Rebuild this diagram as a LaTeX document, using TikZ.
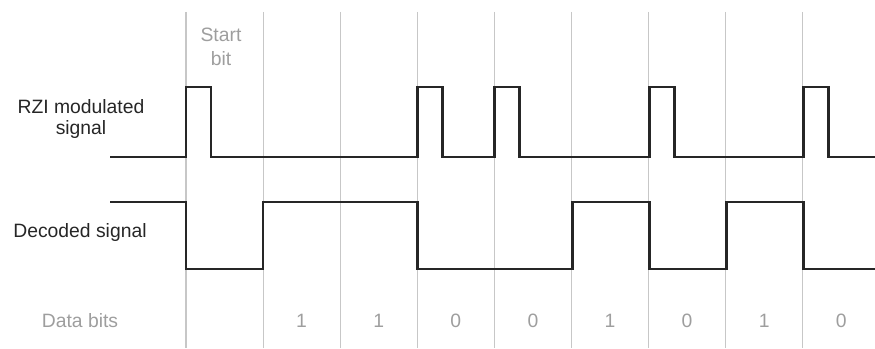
\documentclass[tikz,border=0pt]{standalone}
\usepackage{fontspec}
\setmainfont{Liberation Sans}
\usepackage{tikz}
\usetikzlibrary{calc}

\begin{document}
\begin{tikzpicture}[x=0.02cm, y=-0.02cm,
    signal/.style={line width=1.7pt, draw=black!85},
    gridline/.style={line width=0.6pt, draw=black!22},
    lbl/.style={font=\fontsize{11}{12.5}\selectfont, text=black!85, align=center, inner sep=0pt},
    graylbl/.style={lbl, text=black!38}]
  \useasboundingbox (0,0) rectangle (875,348);

  % Bit boundaries
  \foreach \i in {0,...,8}
    \draw[gridline] ({186+77.1*\i},12) -- ({186+77.1*\i},348);

  % RZI modulated signal
  \draw[signal] (110,157) -- (186,157) -- (186,87) -- (211,87) -- (211,157)
    -- (417,157) -- (417,87) -- (442,87) -- (442,157)
    -- (494,157) -- (494,87) -- (519,87) -- (519,157)
    -- (649,157) -- (649,87) -- (674,87) -- (674,157)
    -- (803,157) -- (803,87) -- (828,87) -- (828,157) -- (875,157);

  % Decoded signal
  \draw[signal] (110,202) -- (186,202) -- (186,269) -- (263,269) -- (263,202)
    -- (417,202) -- (417,269) -- (572,269) -- (572,202)
    -- (649,202) -- (649,269) -- (726,269) -- (726,202)
    -- (803,202) -- (803,269) -- (875,269);

  % Labels
  \node[lbl] (rzi) at (81,119) {RZI modulated\\signal};
  \node[lbl] (decoded) at (80,233) {Decoded signal};
  \node[graylbl] (databits) at (80,321) {Data bits};
  \node[graylbl, font=\fontsize{11}{14}\selectfont] (startbit) at (221,47) {Start\\bit};

  % Data bit values
  \foreach \b [count=\i] in {1,1,0,0,1,0,1,0}
    \node[graylbl] (bit\i) at ({186+77.1*\i+38.5},321) {\b};
\end{tikzpicture}
\end{document}
